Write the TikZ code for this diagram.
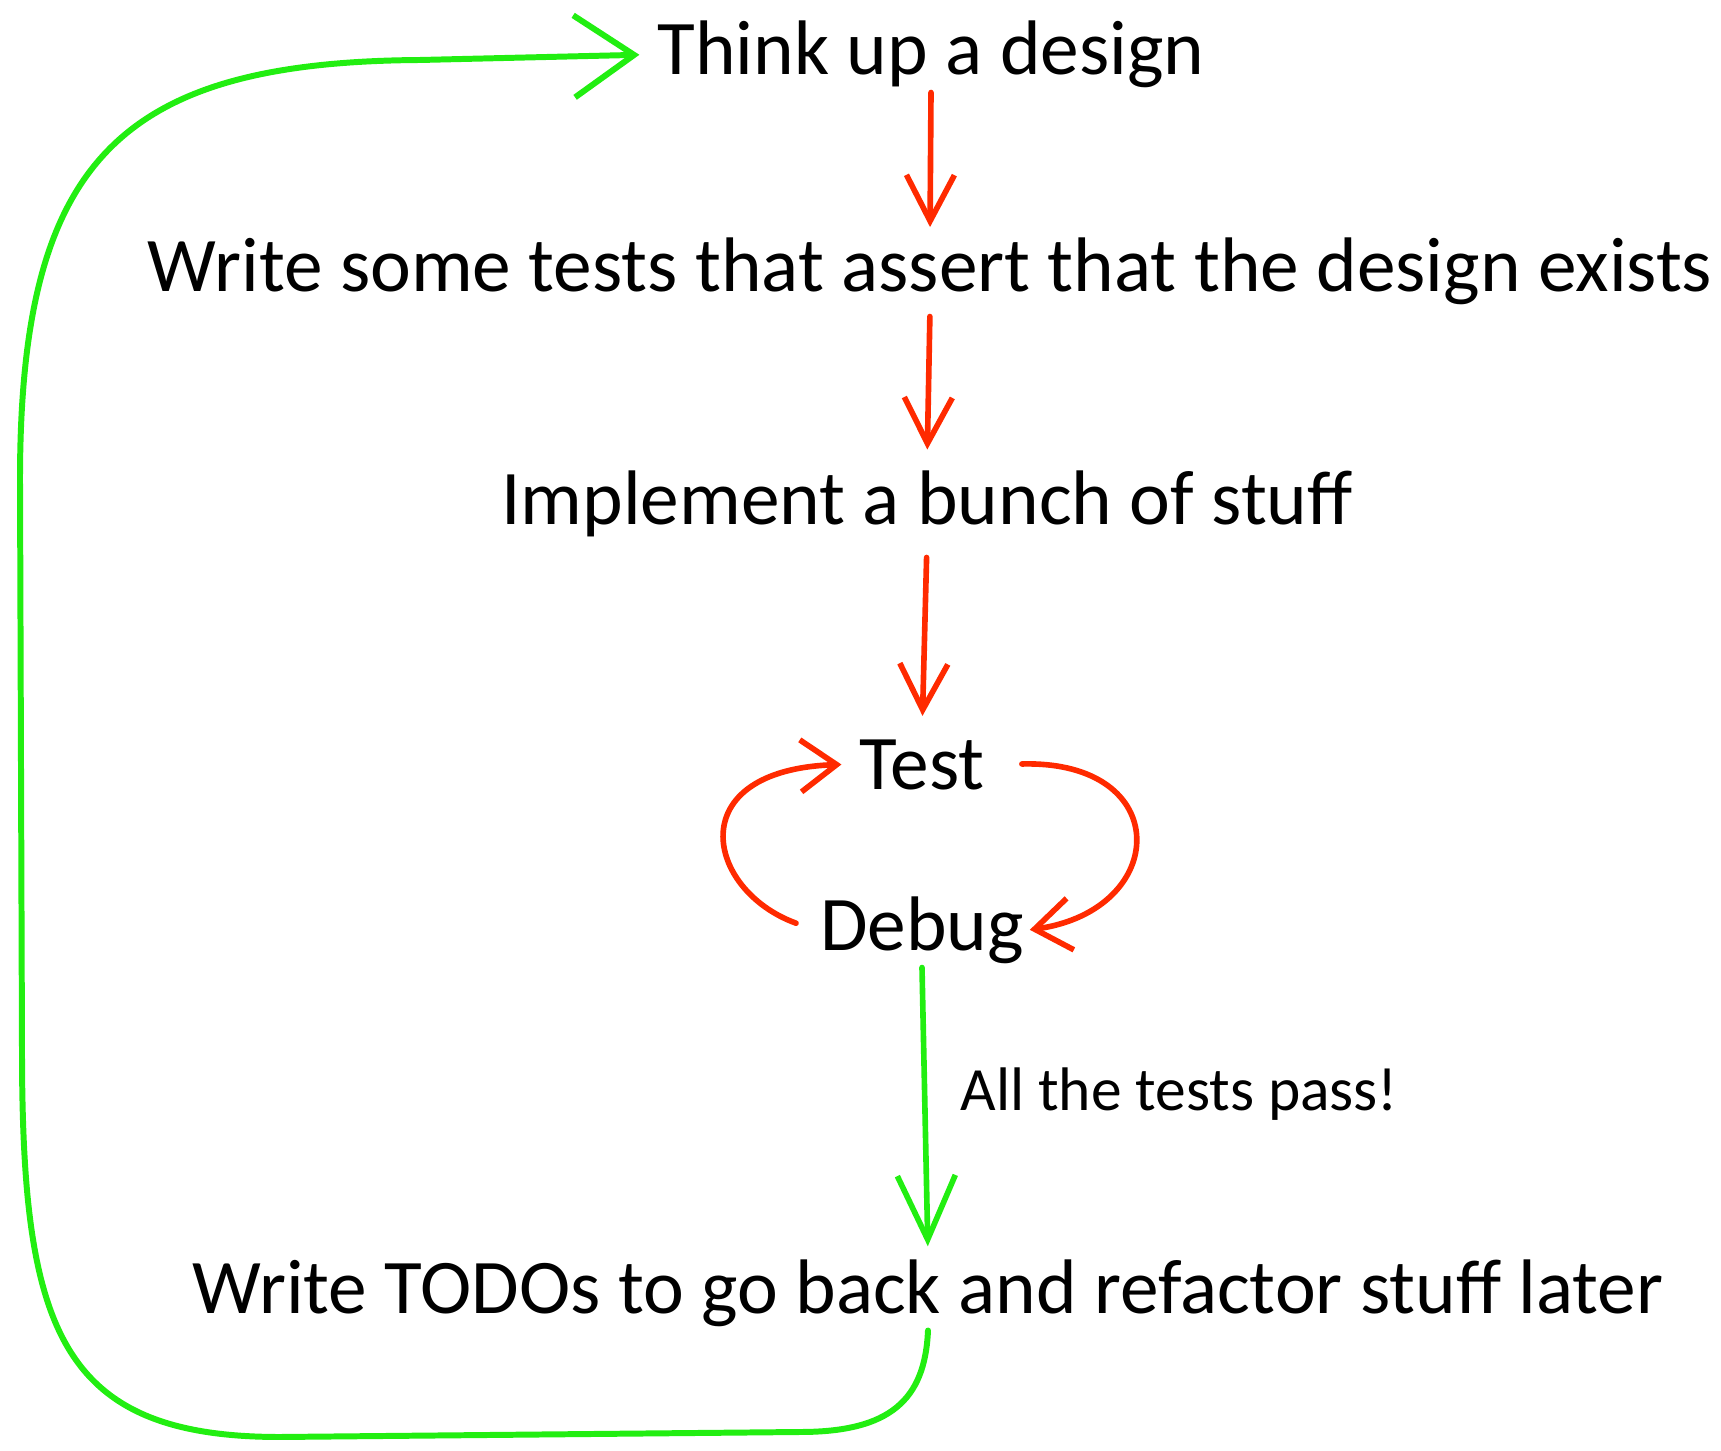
\documentclass[tikz,border=0pt]{standalone}
\usepackage{fontspec}
\setmainfont{Carlito}
\usetikzlibrary{arrows.meta}
\definecolor{ink}{HTML}{000000}
\definecolor{flowred}{HTML}{FF2A00}
\definecolor{loopgreen}{HTML}{22EE11}
\tikzset{
  txt/.style={text=ink, font=\fontsize{22}{26}\selectfont, anchor=base, inner xsep=5pt, inner ysep=1pt},
  note/.style={text=ink, font=\fontsize{17.5}{21}\selectfont, inner sep=0pt},
  flow/.style={draw=flowred, line width=1.6pt, line cap=round, line join=round, -{Straight Barb[length=4.6mm,width=4.8mm]}},
  retry/.style={draw=flowred, line width=1.6pt, line cap=round, line join=round, -{Straight Barb[length=3.6mm,width=5.2mm]}},
  done/.style={draw=loopgreen, line width=1.6pt, line cap=round, line join=round, -{Straight Barb[length=6.4mm,width=5.8mm]}},
  restart/.style={draw=loopgreen, line width=1.7pt, line cap=round, line join=round, -{Straight Barb[length=6mm,width=8.2mm]}},
}

\begin{document}
\begin{tikzpicture}[x=0.1mm, y=-0.1mm]
  \useasboundingbox (0,0) rectangle (1721,1451);
  \node[txt] (think) at (931,75) {Think up a design};
  \node[txt] (tests) at (930,292) {Write some tests that assert that the design exists};
  \node[txt] (impl) at (927,525) {Implement a bunch of stuff};
  \node[txt] (test) at (922,789) {Test};
  \node[txt, inner xsep=1.5pt] (debug) at (922,950) {Debug};
  \node[txt] (todo) at (928,1313) {Write TODOs to go back and refactor stuff later};
  \draw[flow, shorten >=2pt] (think.south) -- (tests.north);
  \draw[flow, shorten <=2pt, shorten >=5pt] (tests.south) -- (impl.north);
  \draw[flow, shorten <=4.5pt, shorten >=5.5pt] (impl.south) -- (test.north);
  \draw[retry, shorten <=5.5pt] (debug.west) .. controls (705,890) and (680,770) .. (test.west);
  \draw[retry, shorten <=5.5pt] (test.east) .. controls (1175,760) and (1170,910) .. (debug.east);
  \draw[done, shorten >=2.5pt] (debug.south) -- node[note, pos=0.44, anchor=west, xshift=3.3mm] (passnote) {All the tests pass!} (todo.north);
  \draw[restart] (todo.south) .. controls (925,1400) and (890,1432) .. (800,1432) -- (280,1437) .. controls (60,1437) and (22,1330) .. (22,1050) -- (20,480) .. controls (20,160) and (120,62) .. (420,60) -- (think.west);
\end{tikzpicture}
\end{document}
